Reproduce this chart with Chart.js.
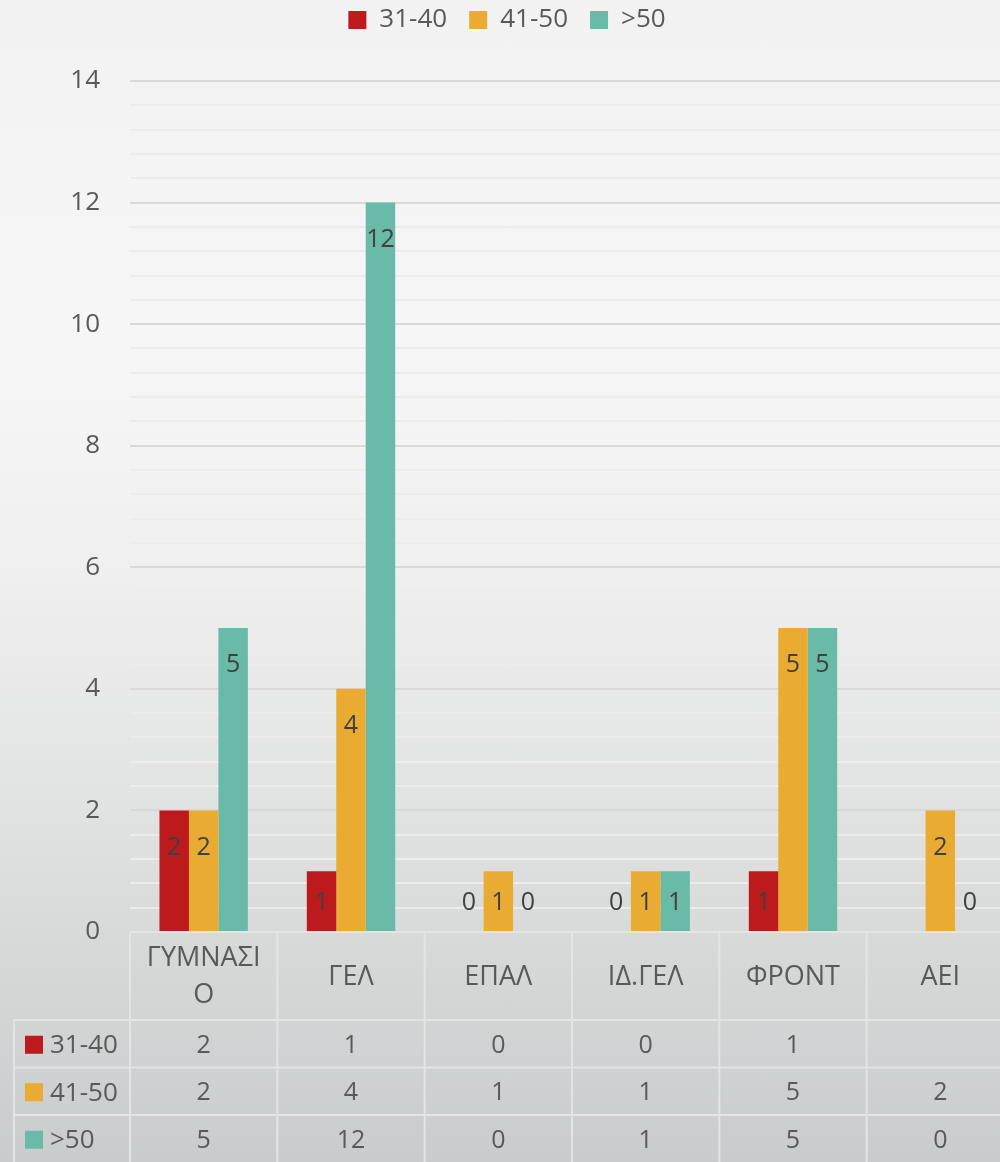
<!DOCTYPE html>
<html>
<head>
<meta charset="utf-8">
<script src="https://cdn.jsdelivr.net/npm/chart.js@4.4.1/dist/chart.umd.min.js"></script>
<style>
  html, body { margin: 0; padding: 0; overflow: hidden; }
  body {
    width: 1000px; height: 1162px;
    background: linear-gradient(to bottom, #f2f2f2 0%, #f6f6f7 30%, #f0f0f0 48%, #e2e3e3 68%, #d5d7d7 84%, #c9cccd 100%);
  }
  #wrap { position: relative; width: 1014px; height: 1162px; }
</style>
</head>
<body>
<div id="wrap"><canvas id="chart"></canvas></div>
<script>
'use strict';

// data
const categories = [['ΓΥΜΝΑΣΙ', 'Ο'], 'ΓΕΛ', 'ΕΠΑΛ', 'ΙΔ.ΓΕΛ', 'ΦΡΟΝΤ', 'ΑΕΙ'];
const seriesNames = ['31-40', '41-50', '>50'];
const age31to40 = [2, 1, 0, 0, 1, null];
const age41to50 = [2, 4, 1, 1, 5, 2];
const ageOver50 = [5, 12, 0, 1, 5, 0];
const seriesColors = ['#bd1a1d', '#eaab33', '#69baa7'];
const yMax = 14;
const yMajorStep = 2;
const yMinorStep = 0.4;

const FONT = '"Open Sans", "Noto Sans", sans-serif';
const TEXT = '#595959';
const TABLE_LINE = '#e3e4e4';

const isMajor = v => Math.abs(v / yMajorStep - Math.round(v / yMajorStep)) < 1e-6;

// extra room under the legend
const legendGap = {
    id: 'legendGap',
    beforeInit(chart) {
        const fit = chart.legend.fit;
        chart.legend.fit = function () {
            fit.call(this);
            this.height += 38;
        };
    }
};

// value labels inside the bar tops
const barLabels = {
    id: 'barLabels',
    afterDatasetsDraw(chart) {
        const ctx = chart.ctx;
        const base = chart.scales.y.getPixelForValue(0);
        ctx.save();
        ctx.font = '25px ' + FONT;
        ctx.fillStyle = '#404040';
        ctx.textAlign = 'center';
        ctx.textBaseline = 'middle';
        chart.data.datasets.forEach((ds, i) => {
            const meta = chart.getDatasetMeta(i);
            meta.data.forEach((el, j) => {
                const v = ds.data[j];
                if (v === null || v === undefined) return;
                const y = Math.min(el.y + 37, base - 29);
                ctx.fillText(String(v), el.x, y);
            });
        });
        ctx.restore();
    }
};

// data table under the plot
const dataTable = {
    id: 'dataTable',
    afterDraw(chart) {
        const ctx = chart.ctx;
        const area = chart.chartArea;
        const xs = chart.scales.x;
        const n = categories.length;
        const colW = (area.right - area.left) / n;
        const top = area.bottom;
        const headerBottom = top + 88;
        const rowH = 47.5;
        const tableLeft = 14;
        const bottom = headerBottom + rowH * seriesNames.length;

        ctx.save();
        ctx.strokeStyle = TABLE_LINE;
        ctx.lineWidth = 2;
        ctx.beginPath();
        ctx.moveTo(area.left, top); ctx.lineTo(area.right, top);
        for (let r = 0; r < seriesNames.length; r++) {
            const y = headerBottom + r * rowH;
            ctx.moveTo(tableLeft, y); ctx.lineTo(area.right, y);
        }
        for (let c = 0; c <= n; c++) {
            const x = area.left + c * colW;
            ctx.moveTo(x, top); ctx.lineTo(x, bottom);
        }
        ctx.moveTo(tableLeft, headerBottom); ctx.lineTo(tableLeft, bottom);
        ctx.stroke();

        ctx.fillStyle = TEXT;
        ctx.textAlign = 'center';
        ctx.textBaseline = 'middle';

        // header labels
        ctx.font = '27px ' + FONT;
        categories.forEach((lab, i) => {
            const cx = xs.getPixelForValue(i);
            const lines = Array.isArray(lab) ? lab : [lab];
            const lh = 37;
            const mid = (top + headerBottom) / 2 + 1;
            lines.forEach((t, k) => {
                ctx.fillText(t, cx, mid + (k - (lines.length - 1) / 2) * lh);
            });
        });

        // rows
        chart.data.datasets.forEach((ds, r) => {
            const cy = headerBottom + r * rowH + rowH / 2 + 2;
            ctx.fillStyle = ds.backgroundColor;
            ctx.fillRect(25, cy - 10, 18, 18);
            ctx.fillStyle = TEXT;
            ctx.textAlign = 'left';
            ctx.font = '26px ' + FONT;
            ctx.fillText(ds.label, 50, cy);
            ctx.textAlign = 'center';
            ctx.font = '25px ' + FONT;
            ds.data.forEach((v, i) => {
                if (v === null || v === undefined) return;
                ctx.fillText(String(v), xs.getPixelForValue(i), cy);
            });
        });
        ctx.restore();
    }
};

const seriesData = [age31to40, age41to50, ageOver50];

new Chart(document.getElementById('chart'), {
    type: 'bar',
    data: {
        labels: categories,
        datasets: seriesNames.map((name, i) => ({
            label: name,
            data: seriesData[i],
            backgroundColor: seriesColors[i],
            borderWidth: 0,
            categoryPercentage: 0.6,
            barPercentage: 1
        }))
    },
    options: {
        responsive: true,
        maintainAspectRatio: false,
        animation: false,
        layout: { padding: { top: -15, bottom: 230, left: 0, right: 0 } },
        plugins: {
            legend: {
                position: 'top',
                labels: {
                    boxWidth: 18,
                    boxHeight: 18,
                    padding: 22,
                    color: TEXT,
                    font: { family: FONT, size: 26 }
                }
            },
            tooltip: { enabled: false }
        },
        scales: {
            x: { display: false },
            y: {
                min: 0,
                max: yMax,
                border: { display: false },
                afterFit(scale) { scale.width = 130; },
                grid: {
                    drawTicks: false,
                    lineWidth: 2,
                    color: c => isMajor(c.tick.value) ? '#d9d9d9' : '#ececec'
                },
                ticks: {
                    stepSize: yMinorStep,
                    autoSkip: false,
                    padding: 30,
                    color: TEXT,
                    font: { family: FONT, size: 26 },
                    callback: v => isMajor(v) ? String(Math.round(v)) : ''
                }
            }
        }
    },
    plugins: [legendGap, barLabels, dataTable]
});
</script>
</body>
</html>
